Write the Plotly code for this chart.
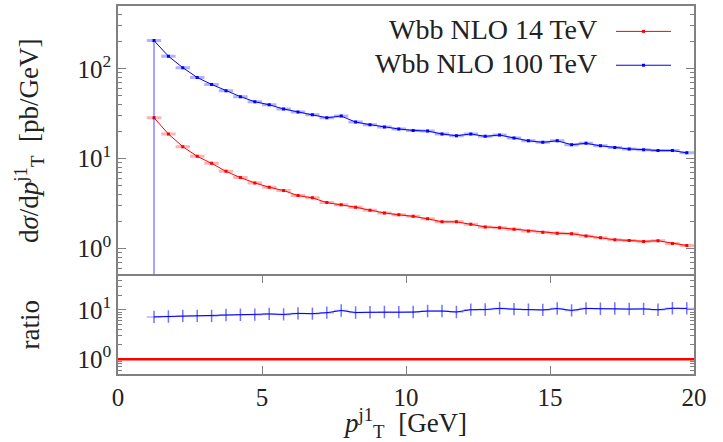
import plotly.graph_objects as go

# ---- data ----
pt_centers = [1.25, 1.75, 2.25, 2.75, 3.25, 3.75, 4.25, 4.75, 5.25, 5.75,
              6.25, 6.75, 7.25, 7.75, 8.25, 8.75, 9.25, 9.75, 10.25, 10.75,
              11.25, 11.75, 12.25, 12.75, 13.25, 13.75, 14.25, 14.75, 15.25, 15.75,
              16.25, 16.75, 17.25, 17.75, 18.25, 18.75, 19.25, 19.75]
bin_halfwidth = 0.25

wbb_14 = [28.5, 18.8, 13.6, 10.6, 8.87, 7.22, 6.15, 5.37, 4.80, 4.41,
          3.88, 3.66, 3.24, 3.06, 2.88, 2.67, 2.49, 2.37, 2.28, 2.14,
          1.98, 1.98, 1.86, 1.74, 1.70, 1.64, 1.57, 1.52, 1.48, 1.46,
          1.38, 1.32, 1.25, 1.23, 1.20, 1.22, 1.14, 1.08]
wbb_100 = [206.0, 138.0, 103.0, 80.0, 67.0, 57.0, 49.0, 43.0, 39.8, 35.7,
           33.0, 30.8, 28.5, 29.8, 25.5, 23.9, 22.5, 21.4, 20.6, 20.3,
           18.8, 18.0, 18.8, 17.7, 18.3, 17.0, 15.8, 15.2, 15.8, 14.3,
           14.8, 13.9, 13.3, 12.8, 12.6, 12.3, 12.3, 11.6]
# downward uncertainty of the 100 TeV curve (first bin is unbounded)
wbb_100_err_down = [205.99] + [0.0] * 37

ratio_100 = [b / r for b, r in zip(wbb_100, wbb_14)]

labels = ["Wbb NLO 14 TeV", "Wbb NLO 100 TeV"]
x_ticks = [0, 5, 10, 15, 20]
main_ticks = [1, 10, 100]
main_ticktext = ["10<sup>0</sup>", "10<sup>1</sup>", "10<sup>2</sup>"]
ratio_ticks = [1, 10]
ratio_ticktext = ["10<sup>0</sup>", "10<sup>1</sup>"]

RED = "#ff0000"
BLUE = "#0000ff"
FONT = "Liberation Serif"
TXT = "#222222"
AX = "#808080"
TICK_SIZE = 25
TITLE_SIZE = 27

fig = go.Figure()

fig.add_trace(go.Scatter(
    x=pt_centers, y=wbb_14, mode="lines+markers", name=labels[0],
    line=dict(color=RED, width=1), marker=dict(color=RED, size=3, symbol="square"),
    error_x=dict(type="constant", value=bin_halfwidth, color="rgba(255,0,0,0.3)",
                 thickness=3, width=0),
    xaxis="x", yaxis="y", showlegend=False))

fig.add_trace(go.Scatter(
    x=pt_centers, y=wbb_100, mode="lines+markers", name=labels[1],
    line=dict(color=BLUE, width=1), marker=dict(color=BLUE, size=3, symbol="square"),
    error_x=dict(type="constant", value=bin_halfwidth, color="rgba(0,0,255,0.3)",
                 thickness=3, width=0),
    error_y=dict(type="data", symmetric=False, array=[0.0] * len(wbb_100),
                 arrayminus=wbb_100_err_down, color="rgba(0,0,255,0.35)",
                 thickness=2, width=0),
    xaxis="x", yaxis="y", showlegend=False))

fig.add_trace(go.Scatter(
    x=pt_centers, y=ratio_100, mode="lines", name="ratio",
    line=dict(color=BLUE, width=1),
    error_x=dict(type="constant", value=bin_halfwidth, color="rgba(0,0,255,0.3)",
                 thickness=1.5, width=0),
    error_y=dict(type="percent", symmetric=False, value=34, valueminus=25,
                 color="rgba(0,0,255,0.55)", thickness=1.5, width=0),
    xaxis="x2", yaxis="y2", showlegend=False))

# reference line at ratio = 1
fig.add_shape(type="line", xref="x2 domain", yref="y2", x0=0, x1=1, y0=1, y1=1,
              line=dict(color=RED, width=2.5))

split = 99 / 370.0

def minor_vals(lo_dec, hi_dec, lo, hi):
    vals = []
    for d in range(lo_dec, hi_dec + 1):
        for m in range(2, 10):
            v = m * 10 ** d
            if lo <= v <= hi:
                vals.append(v)
    return vals

tickfont = dict(family=FONT, size=TICK_SIZE, color=TXT)
titlefont = dict(family=FONT, size=TITLE_SIZE, color=TXT)

fig.update_layout(
    width=723, height=442,
    margin=dict(l=118, r=29, t=6, b=66),
    paper_bgcolor="white", plot_bgcolor="white",
    font=dict(family=FONT, size=TICK_SIZE, color=TXT),
    xaxis=dict(range=[0, 20], showgrid=False, zeroline=False, showline=True,
               linecolor=AX, linewidth=1.5, mirror=False, side="top",
               anchor="y", showticklabels=False, ticks=""),
    yaxis=dict(type="log", domain=[split, 1], range=[-0.30103, 2.69897],
               tickmode="array", tickvals=main_ticks, ticktext=main_ticktext,
               ticks="inside", ticklen=8, tickcolor=AX, tickwidth=1.2,
               minor=dict(tickmode="array", tickvals=minor_vals(-1, 2, 0.5, 500),
                          ticks="inside", ticklen=4, tickcolor=AX, tickwidth=1.2),
               showgrid=False, zeroline=False, showline=True, linecolor=AX,
               linewidth=1.5, mirror="allticks", anchor="x", tickfont=tickfont,
               title=dict(text="d<i>σ</i>/d<i>p</i><sup>j1</sup><sub>T</sub>  [pb/GeV]",
                          standoff=31, font=titlefont)),
    xaxis2=dict(range=[0, 20], showgrid=False, zeroline=False, showline=True,
                linecolor=AX, linewidth=1.5, mirror="ticks",
                anchor="y2", tickmode="array", tickvals=x_ticks,
                ticks="inside", ticklen=8, tickcolor=AX, tickwidth=1.2, tickfont=tickfont,
                title=dict(text="<i>p</i><sup>j1</sup><sub>T</sub>  [GeV]", standoff=6,
                           font=titlefont)),
    yaxis2=dict(type="log", domain=[0, split], range=[-0.30103, 1.69897],
                tickmode="array", tickvals=ratio_ticks, ticktext=ratio_ticktext,
                ticks="inside", ticklen=8, tickcolor=AX, tickwidth=1.2,
                minor=dict(tickmode="array", tickvals=minor_vals(-1, 1, 0.5, 50),
                           ticks="inside", ticklen=4, tickcolor=AX, tickwidth=1.2),
                showgrid=False, zeroline=False, showline=True, linecolor=AX,
                linewidth=1.5, mirror="allticks", anchor="x2", tickfont=tickfont,
                title=dict(text="ratio", standoff=30, font=titlefont)),
)

# legend (text left, sample on the right)
legend_rows = [(labels[0], RED, 0.931), (labels[1], BLUE, 0.839)]
for text, col, yp in legend_rows:
    fig.add_annotation(xref="paper", yref="paper", x=(599 - 118) / 576, y=yp + 0.006,
                       xanchor="right", yanchor="middle", showarrow=False,
                       text=text, font=dict(family=FONT, size=28, color=TXT))
    fig.add_shape(type="line", xref="paper", yref="paper",
                  x0=(616 - 118) / 576, x1=(671 - 118) / 576, y0=yp, y1=yp,
                  line=dict(color=col, width=1))
    fig.add_shape(type="rect", xref="paper", yref="paper",
                  x0=(642 - 118) / 576, x1=(645 - 118) / 576,
                  y0=yp - 0.004, y1=yp + 0.004, line=dict(width=0), fillcolor=col)

# clipped stray label at the far left edge
fig.add_annotation(xref="paper", yref="paper", x=(3 - 118) / 576, y=(376 - 395) / 370,
                   xanchor="right", yanchor="middle", showarrow=False, text="0",
                   font=dict(family=FONT, size=TICK_SIZE, color=TXT))

fig.write_html("out.html")
